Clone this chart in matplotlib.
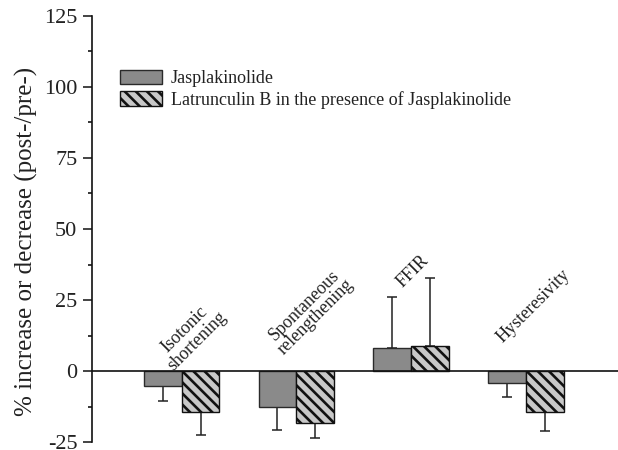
import matplotlib
matplotlib.use("Agg")
import matplotlib.pyplot as plt
import numpy as np
from matplotlib.ticker import MultipleLocator

plt.rcParams['font.family'] = ['Liberation Serif', 'DejaVu Serif']
plt.rcParams['hatch.linewidth'] = 1.9
plt.rcParams['axes.unicode_minus'] = False

categories = ['Isotonic\nshortening', 'Spontaneous\nrelengthening', 'FFIR', 'Hysteresivity']
jasp = [-5.2, -12.7, 8.1, -4.3]
jasp_err = [5.5, 8.1, 17.9, 5.0]
latb = [-14.5, -18.4, 8.9, -14.5]
latb_err = [7.9, 5.2, 23.8, 6.5]
series_labels = ['Jasplakinolide', 'Latrunculin B in the presence of Jasplakinolide']
yticks = [-25, 0, 25, 50, 75, 100, 125]

# label placement (layout only)
label_dx = [0.08, 0.12, 0.01, 0.06]
label_y = [12.5, 21, 35, 23]

fig = plt.figure(figsize=(6.18, 4.5), dpi=100)
ax = fig.add_axes([92/618, 8/450, 1 - 92/618, (443-17)/450])

x = np.arange(len(categories))
w = 0.33

def one_sided(vals, errs):
    lo = [e if v < 0 else 0 for v, e in zip(vals, errs)]
    hi = [e if v >= 0 else 0 for v, e in zip(vals, errs)]
    return [lo, hi]

b1 = ax.bar(x - w/2, jasp, w, color='#8a8a8a', edgecolor='#2a2a2a', linewidth=1.0,
            label=series_labels[0], zorder=2)
b2 = ax.bar(x + w/2, latb, w, color='#c8c8c8', edgecolor='#111111', linewidth=1.0,
            hatch='\\\\\\', label=series_labels[1], zorder=2)
ax.errorbar(x - w/2, jasp, yerr=one_sided(jasp, jasp_err), fmt='none', ecolor='#222222',
            elinewidth=1.1, capsize=3.6, capthick=1.1, zorder=1)
ax.errorbar(x + w/2, latb, yerr=one_sided(latb, latb_err), fmt='none', ecolor='#222222',
            elinewidth=1.1, capsize=3.6, capthick=1.1, zorder=1)

ax.axhline(0, color='#111111', linewidth=1.2, zorder=3)

ax.set_xlim(-0.78, 3.8)
ax.set_ylim(-25, 125)
ax.set_yticks(yticks)
ax.yaxis.set_minor_locator(MultipleLocator(12.5))
ax.tick_params(axis='y', which='major', direction='out', length=6.5, width=1.1,
               labelsize=16, colors='#111111', pad=4)
ax.tick_params(axis='y', which='minor', direction='out', length=3, width=1.1)
for t in ax.get_yticklabels():
    t.set_color('#222222')
ax.set_xticks([])
for s in ['top', 'right', 'bottom']:
    ax.spines[s].set_visible(False)
ax.spines['left'].set_linewidth(1.2)
ax.spines['left'].set_color('#111111')

ax.set_ylabel('% increase or decrease (post-/pre-)', fontsize=18, color='#222222')
ax.yaxis.set_label_coords(-0.103, 0.47)

for xi, dx, ly, lab in zip(x, label_dx, label_y, categories):
    ax.text(xi + dx, ly, lab, rotation=45, ha='center', va='center', multialignment='center',
            fontsize=13, color='#222222', linespacing=1.0)

leg = fig.legend(handles=[b1, b2], loc='upper left', bbox_to_anchor=(120/618, 1 - 70/450),
                 frameon=False, fontsize=13, handlelength=2.3, handleheight=0.85,
                 handletextpad=0.5, labelspacing=0.2, borderpad=0, borderaxespad=0)
for t in leg.get_texts():
    t.set_color('#222222')

fig.savefig('out.png', dpi=100)
